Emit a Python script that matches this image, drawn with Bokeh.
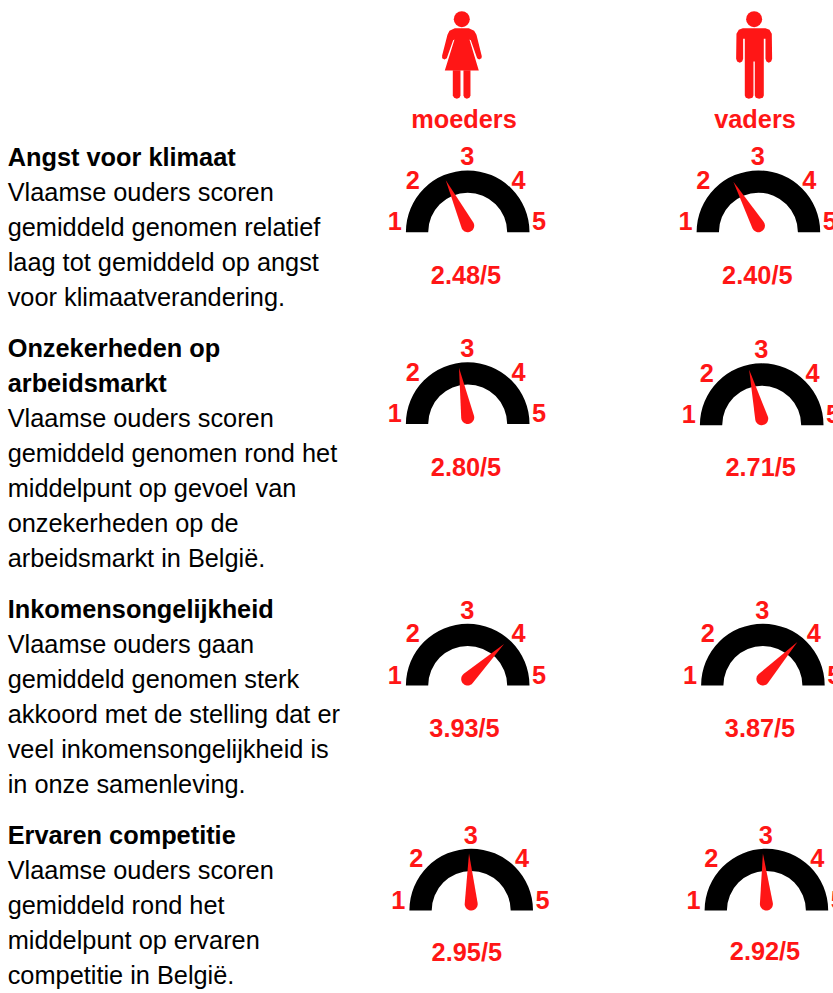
from bokeh.plotting import figure
from bokeh.models import Range1d
from bokeh.core.properties import value
from bokeh.embed import file_html
from bokeh.resources import INLINE
import numpy as np

# ---- data ----
groups = ["moeders", "vaders"]
moeders_scores = [2.48, 2.80, 3.93, 2.95]
vaders_scores = [2.40, 2.71, 3.87, 2.92]
scale_labels = ["1", "2", "3", "4", "5"]
texts = [
    ("Angst voor klimaat", ["Vlaamse ouders scoren", "gemiddeld genomen relatief", "laag tot gemiddeld op angst", "voor klimaatverandering."]),
    ("Onzekerheden op|arbeidsmarkt", ["Vlaamse ouders scoren", "gemiddeld genomen rond het", "middelpunt op gevoel van", "onzekerheden op de", "arbeidsmarkt in België."]),
    ("Inkomensongelijkheid", ["Vlaamse ouders gaan", "gemiddeld genomen sterk", "akkoord met de stelling dat er", "veel inkomensongelijkheid is", "in onze samenleving."]),
    ("Ervaren competitie", ["Vlaamse ouders scoren", "gemiddeld rond het", "middelpunt op ervaren", "competitie in België."]),
]

# ---- layout (page pixels) ----
W, H = 833, 993
RED = "#ff1616"
FONT = value("Liberation Sans")
M_CX = [467.2, 467.2, 467.2, 470.7]
V_CX = [757.9, 761.2, 762.4, 765.9]
M_BASE = [231.7, 423.5, 685.0, 910.0]
V_BASE = [231.7, 424.7, 685.0, 910.0]
M_VAL_X = [465.5, 465.5, 464.0, 466.3]
V_VAL_X = [756.8, 760.2, 759.5, 764.5]
M_VAL_Y = [283.3, 475.3, 736.7, 960.7]
V_VAL_Y = [283.3, 475.3, 736.7, 959.7]
TEXT_BASE = [165.5, 356.5, 617.5, 843.5]
TEXT_X = 7.2
LINE_H = 34.9
R_OUT, R_IN = 61.8, 39.5
HUB_R, HUB_UP, NEEDLE = 6.5, 6.5, 50.5
DEG_PER_UNIT = 49.5
TICK_DX = [-72.8, -55.0, -0.5, 50.8, 71.4]
TICK_DY = [2.0, 43.5, 67.0, 43.5, 2.0]
BASE_SHIFT = 0.35   # alphabetic baseline to middle of the text, in em


def Y(v):
    return H - np.asarray(v, dtype=float)


def label(xs, ys, txt, size, color, bold=True, align="left"):
    yy = Y(np.asarray(ys, dtype=float) - BASE_SHIFT * size).tolist()
    p.text(x=list(xs), y=yy, text=list(txt), text_color=color, text_font=FONT,
           text_font_style="bold" if bold else "normal", text_font_size=f"{size}px",
           text_align=align, text_baseline="middle")


p = figure(width=W, height=H, x_range=Range1d(0, W), y_range=Range1d(0, H),
           output_backend="svg", toolbar_location=None, min_border=0,
           background_fill_color="white", border_fill_color="white", outline_line_color=None)
p.axis.visible = False
p.grid.visible = False


def needle_shape(cx, base, score):
    a = np.deg2rad((score - 3) * DEG_PER_UNIT)      # clockwise from straight up
    hx, hy = cx, base - HUB_UP
    tx, ty = hx + NEEDLE * np.sin(a), hy - NEEDLE * np.cos(a)
    t = np.linspace(np.pi / 2 - 0.12, 3 * np.pi / 2 + 0.12, 24)
    ux, uy = np.sin(a), -np.cos(a)
    vx, vy = np.cos(a), np.sin(a)
    xs = hx + HUB_R * (np.cos(t) * ux + np.sin(t) * vx)
    ys = hy + HUB_R * (np.cos(t) * uy + np.sin(t) * vy)
    return np.r_[tx, xs[::-1]], Y(np.r_[ty, ys[::-1]])


all_cx = M_CX + V_CX
all_base = M_BASE + V_BASE
all_scores = moeders_scores + vaders_scores

p.annular_wedge(x=all_cx, y=Y(all_base).tolist(), inner_radius=R_IN, outer_radius=R_OUT,
                start_angle=0, end_angle=np.pi, fill_color="black", line_color=None)

nx, ny = zip(*[needle_shape(c, b, s) for c, b, s in zip(all_cx, all_base, all_scores)])
p.patches(xs=[list(a) for a in nx], ys=[list(a) for a in ny], fill_color=RED, line_color=None)

# tick labels
tx, ty, tt = [], [], []
for c, b in zip(all_cx, all_base):
    for lab, dx, dy in zip(scale_labels, TICK_DX, TICK_DY):
        tx.append(c + dx); ty.append(b - dy); tt.append(lab)
label(tx, ty, tt, 25.33, RED, align="center")

# score labels
label(M_VAL_X + V_VAL_X, M_VAL_Y + V_VAL_Y, [f"{s:.2f}/5" for s in all_scores], 25.33, RED, align="center")

# group headers
label([463.5, 754.5], [127.5, 127.5], groups, 25.33, RED, align="center")

# left column
for (title, lines), base in zip(texts, TEXT_BASE):
    y0 = base
    for t in title.split("|"):
        label([TEXT_X], [y0], [t], 25.33, "black")
        y0 += LINE_H
    label([TEXT_X] * len(lines), [y0 + i * LINE_H for i in range(len(lines))], lines, 25.33, "black", bold=False)

# icons: outline traced in 3x crop units, placed by origin


def icon(ox, oy, parts, head):
    for part in parts:
        xs = [ox + a / 3 for a, _ in part]
        ys = Y([oy + b / 3 for _, b in part]).tolist()
        p.patch(xs, ys, fill_color=RED, line_color=None)
    p.circle(x=[ox + head[0] / 3], y=[float(Y(oy + head[1] / 3))], radius=head[2] / 3,
             fill_color=RED, line_color=None)


woman = [
    [(60, 68), (102, 68), (118, 76), (125, 88), (141, 152), (140, 158), (133, 162), (127, 158), (108, 104),
     (104, 102), (132, 195), (30, 195), (59, 102), (55, 104), (36, 158), (29, 162), (22, 158), (22, 150),
     (38, 88), (44, 76)],
    [(54, 194), (77, 194), (77, 270), (74, 277), (66, 280), (58, 277), (54, 270)],
    [(86, 194), (107, 194), (107, 270), (104, 277), (96, 280), (89, 277), (86, 270)],
]
man = [
    [(45, 68), (113, 68), (125, 73), (132, 85), (133, 160), (130, 168), (123, 172), (116, 168), (113, 160),
     (113, 100), (108, 100), (108, 270), (105, 277), (94, 280), (84, 277), (81, 270), (81, 168), (77, 168),
     (77, 270), (74, 277), (63, 280), (54, 277), (51, 270), (51, 100), (46, 100), (46, 160), (43, 168),
     (36, 172), (28, 168), (25, 160), (26, 85), (33, 73)],
]
icon(434.3, 5, woman, (81, 41, 24))
icon(727.3, 5, man, (79, 41, 24))

open("out.html", "w").write(file_html(p, INLINE))
